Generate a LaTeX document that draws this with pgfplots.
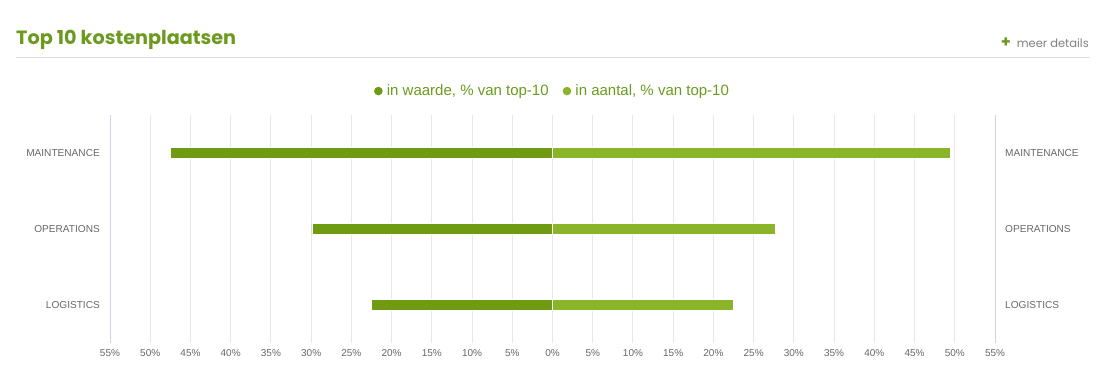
\documentclass[border=0pt]{standalone}
\usepackage{pgfplots}
\pgfplotsset{compat=1.18}
\usepackage{fontspec}
\setmainfont{Liberation Sans}
\newfontfamily\titlefont{Poppins}
\definecolor{darkgreen}{HTML}{6E9B12}
\definecolor{lightgreen}{HTML}{8AB52A}
\definecolor{titlegreen}{HTML}{6B9A1E}
\definecolor{gridgray}{HTML}{E8E8E8}
\definecolor{axisblue}{HTML}{CCD6EB}
\definecolor{tickgray}{HTML}{666666}
\definecolor{rulegray}{HTML}{DDDDDD}
\begin{document}
\begin{tikzpicture}
\useasboundingbox (0pt,0pt) rectangle (1110pt,385pt);
% header
\node[anchor=base west, inner sep=0pt, text=titlegreen, font=\titlefont\bfseries\fontsize{19.2}{22}\selectfont] at (16pt,340pt) {Top 10 kostenplaatsen};
\draw[rulegray, line width=1pt] (16pt,327pt) -- (1090pt,327pt);
\node[anchor=base east, inner sep=0pt, text=gray, font=\titlefont\fontsize{11.5}{14}\selectfont] at (1089pt,337pt) {{\color{titlegreen}\bfseries\fontsize{16}{16}\selectfont +}\hspace{6pt}meer details};
% main axis
\begin{axis}[
  at={(110pt,42pt)}, anchor=south west,
  width=885pt, height=228pt, scale only axis,
  xmin=-55, xmax=55, ymin=-0.5, ymax=2.5,
  separate axis lines,
  x axis line style={draw=none},
  y axis line style={draw=axisblue, line width=1pt},
  xtick={-55,-50,-45,-40,-35,-30,-25,-20,-15,-10,-5,0,5,10,15,20,25,30,35,40,45,50,55},
  xticklabels={55\%,50\%,45\%,40\%,35\%,30\%,25\%,20\%,15\%,10\%,5\%,0\%,5\%,10\%,15\%,20\%,25\%,30\%,35\%,40\%,45\%,50\%,55\%},
  ytick={0,1,2},
  yticklabels={LOGISTICS,OPERATIONS,MAINTENANCE},
  major tick length=0pt,
  xmajorgrids,
  grid style={draw=gridgray, line width=1pt},
  xticklabel style={font=\fontsize{10}{12}\selectfont, text=tickgray, inner sep=0pt, yshift=-6pt},
  yticklabel style={font=\fontsize{10.1}{12}\selectfont, text=tickgray, inner sep=0pt, xshift=-10pt},
  legend style={at={(0.5,1.105)}, anchor=center, draw=none, fill=none,
    legend columns=2, font=\fontsize{15}{17}\selectfont, text=titlegreen,
    /tikz/every even column/.append style={column sep=12pt}},
]
\addplot[xbar, bar width=11pt, bar shift=0pt, fill=darkgreen, draw=white, line width=0.8pt,
  legend image code/.code={\fill[darkgreen, draw=none] (0pt,0pt) circle (4.3pt); \path[draw=none, fill=none] (0pt,0pt) -- (6.5pt,0pt);}]
  coordinates {(-47.5,2) (-29.9,1) (-22.5,0)};
\addlegendentry{in waarde, \% van top-10}
\addplot[xbar, bar width=11pt, bar shift=0pt, fill=lightgreen, draw=white, line width=0.8pt,
  legend image code/.code={\fill[lightgreen, draw=none] (0pt,0pt) circle (4.3pt); \path[draw=none, fill=none] (0pt,0pt) -- (6.5pt,0pt);}]
  coordinates {(49.5,2) (27.7,1) (22.5,0)};
\addlegendentry{in aantal, \% van top-10}
\end{axis}
% right category labels
\begin{axis}[
  at={(110pt,42pt)}, anchor=south west,
  width=885pt, height=228pt, scale only axis,
  xmin=-55, xmax=55, ymin=-0.5, ymax=2.5,
  axis x line=none,
  axis y line*=right,
  y axis line style={draw=axisblue, line width=1pt},
  ytick={0,1,2},
  yticklabels={LOGISTICS,OPERATIONS,MAINTENANCE},
  major tick length=0pt,
  yticklabel style={font=\fontsize{10.1}{12}\selectfont, text=tickgray, inner sep=0pt, xshift=10pt},
]
\addplot[draw=none, forget plot] coordinates {(0,0)};
\end{axis}
\end{tikzpicture}
\end{document}
